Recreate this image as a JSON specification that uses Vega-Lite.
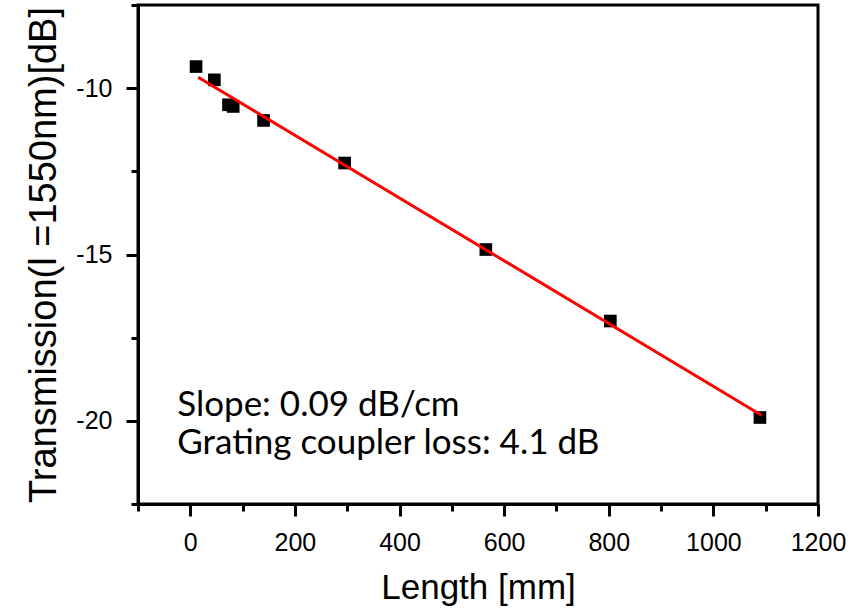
{
  "$schema": "https://vega.github.io/schema/vega-lite/v6.json",
  "width": 680,
  "height": 499,
  "autosize": {"type": "none"},
  "padding": {"left": 138, "top": 5, "right": 35, "bottom": 104},
  "background": "white",
  "config": {
    "view": {"stroke": "black", "strokeWidth": 3},
    "axis": {
      "grid": false,
      "domainColor": "black",
      "domainWidth": 3,
      "tickColor": "black",
      "tickWidth": 3,
      "labelFont": "Liberation Sans",
      "labelFontSize": 25,
      "labelColor": "black",
      "titleFont": "Liberation Sans",
      "titleFontWeight": "normal",
      "titleColor": "black",
      "labelFlush": false,
      "labelOverlap": false,
      "labelBound": false
    }
  },
  "datasets": {
    "pts": [
      {"len": 11, "t": -9.35},
      {"len": 46, "t": -9.75},
      {"len": 73, "t": -10.5},
      {"len": 82, "t": -10.55},
      {"len": 140, "t": -10.97},
      {"len": 295, "t": -12.25},
      {"len": 565, "t": -14.85},
      {"len": 803, "t": -17.0},
      {"len": 1089, "t": -19.9}
    ],
    "fit": [
      {"len": 15, "t": -9.67},
      {"len": 1092, "t": -19.83}
    ],
    "notes": [
      {"len": -25, "t": -19.86, "txt": "Slope: 0.09 dB/cm"},
      {"len": -25, "t": -21.0, "txt": "Grating coupler loss: 4.1 dB"}
    ]
  },
  "encoding": {
    "x": {
      "field": "len",
      "type": "quantitative",
      "scale": {"domain": [-100, 1200], "nice": false, "zero": false},
      "axis": {
        "title": "Length [mm]",
        "titleFontSize": 35,
        "values": [-100, 0, 100, 200, 300, 400, 500, 600, 700, 800, 900, 1000, 1100, 1200],
        "labelExpr": "datum.value % 200 === 0 ? toString(datum.value) : ''",
        "tickSize": {"condition": {"test": "datum.value % 200 === 0", "value": 12}, "value": 7},
        "labelFontSize": 25,
        "labelPadding": 14,
        "titlePadding": 15
      }
    },
    "y": {
      "field": "t",
      "type": "quantitative",
      "scale": {"domain": [-22.5, -7.5], "nice": false, "zero": false},
      "axis": {
        "title": "Transmission(l =1550nm)[dB]",
        "titleFontSize": 38,
        "values": [-22.5, -20, -17.5, -15, -12.5, -10, -7.5],
        "labelExpr": "datum.value % 5 === 0 ? toString(datum.value) : ''",
        "tickSize": {"condition": {"test": "datum.value % 5 === 0", "value": 12}, "value": 7},
        "labelFontSize": 25,
        "labelPadding": 14,
        "titlePadding": 12
      }
    }
  },
  "layer": [
    {
      "data": {"name": "pts"},
      "mark": {"type": "point", "shape": "square", "filled": true, "color": "black", "size": 160, "opacity": 1}
    },
    {
      "data": {"name": "fit"},
      "mark": {"type": "line", "color": "#ff0000", "strokeWidth": 3}
    },
    {
      "data": {"name": "notes"},
      "mark": {"type": "text", "align": "left", "baseline": "alphabetic", "font": "Lato", "fontSize": 35, "color": "black"},
      "encoding": {"text": {"field": "txt"}}
    }
  ]
}
